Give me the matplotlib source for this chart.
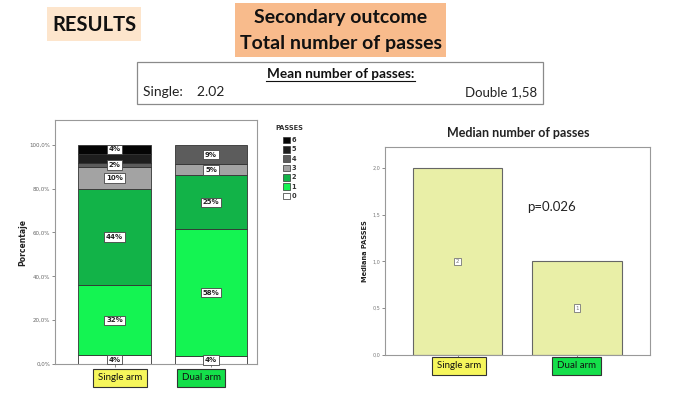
import matplotlib
matplotlib.use("Agg")
import matplotlib.pyplot as plt
from matplotlib.patches import Rectangle
import numpy as np

# ---- data ----
groups = ["Single arm", "Dual arm"]
pass_levels = ["0", "1", "2", "3", "4", "5", "6"]
single_pct = [3.9, 32.0, 44.0, 9.8, 2.1, 4.1, 4.1]
dual_pct = [3.6, 57.8, 24.6, 5.1, 8.9, 0.0, 0.0]
single_shown = [True, True, True, True, True, False, True]
dual_shown = [True, True, True, True, True, False, False]
medians = [2, 1]
median_labels = ["2", "1"]
mean_single = "2.02"
mean_double = "1,58"
p_value = "p=0.026"
pct_ticks = [0, 20, 40, 60, 80, 100]
pct_tick_labels = ["0,0%", "20,0%", "40,0%", "60,0%", "80,0%", "100,0%"]
med_ticks = [0.0, 0.5, 1.0, 1.5, 2.0]
med_tick_labels = ["0,0", "0,5", "1,0", "1,5", "2,0"]

level_colors = ["#ffffff", "#14f452", "#12b348", "#a3a3a3", "#5c5c5c", "#1e1e1e", "#050505"]
group_box_colors = ["#f6f65c", "#14df4a"]

FONT = "Lato"
W, H = 693, 396
fig = plt.figure(figsize=(W / 100, H / 100), dpi=100)
fig.patch.set_facecolor("white")


def fx(x):
    return x / W


def fy(y):
    return 1 - y / H


def fig_rect(x0, y0, x1, y1, fc, ec="none", lw=0.0):
    fig.patches.append(Rectangle((fx(x0), fy(y1)), fx(x1) - fx(x0), fy(y0) - fy(y1),
                                 transform=fig.transFigure, facecolor=fc, edgecolor=ec,
                                 linewidth=lw, zorder=0))


def group_box(xc, yc, label, color):
    fig.text(fx(xc), fy(yc), label, ha="center", va="center", fontsize=7, family=FONT,
             color="#111111",
             bbox=dict(boxstyle="square,pad=0.5", fc=color, ec="#333333", lw=0.8))


# ---- header ----
fig_rect(47, 7, 141, 41, "#fde5cc")
fig.text(fx(94), fy(25), "RESULTS", ha="center", va="center", fontsize=14.5,
         fontweight="bold", family=FONT, color="#111111")

fig_rect(235, 3, 446, 57, "#f8bb8c")
fig.text(fx(340.5), fy(18), "Secondary outcome", ha="center", va="center", fontsize=14,
         fontweight="bold", family=FONT, color="#111111")
fig.text(fx(340.5), fy(43), "Total number of passes", ha="center", va="center", fontsize=14,
         fontweight="bold", family=FONT, color="#111111")

fig_rect(137, 62, 543, 104, "white", ec="#8a8a8a", lw=0.9)
fig.text(fx(340.5), fy(74), "Mean number of passes:", ha="center", va="center",
         fontsize=9.8, fontweight="bold", family=FONT, color="#111111")
fig.add_artist(plt.Line2D([fx(266), fx(415)], [fy(80.5), fy(80.5)], transform=fig.transFigure,
                          color="#111111", lw=0.8))
fig.text(fx(143), fy(92), "Single:    " + mean_single, ha="left", va="center", fontsize=10,
         family=FONT, color="#222222")
fig.text(fx(537), fy(92), "Double " + mean_double, ha="right", va="center", fontsize=9.5,
         family=FONT, color="#222222")

# ---- left stacked chart ----
ax1 = fig.add_axes([fx(55), fy(364), fx(257) - fx(55), fy(120) - fy(364)])
x = np.arange(len(groups))
bw = 0.756
data = [single_pct, dual_pct]
shown = [single_shown, dual_shown]
for gi in range(len(groups)):
    bottom = 0.0
    for li, lvl in enumerate(pass_levels):
        v = data[gi][li]
        if v <= 0:
            continue
        ax1.bar(x[gi], v, bw, bottom=bottom, color=level_colors[li], edgecolor="#333333",
                linewidth=0.6, zorder=2)
        if shown[gi][li]:
            ax1.text(x[gi], bottom + v / 2, f"{v:.0f}%", ha="center", va="center", fontsize=5,
                     fontweight="bold", family="DejaVu Sans", color="#222222", zorder=4,
                     bbox=dict(boxstyle="square,pad=0.25", fc="white", ec="#444444", lw=0.6))
        bottom += v
ax1.set_xlim(-0.617, 1.477)
ax1.set_ylim(0, 111.3)
ax1.set_yticks(pct_ticks)
ax1.set_yticklabels(pct_tick_labels, fontsize=4, color="#666666")
ax1.set_xticks(x)
ax1.set_xticklabels(["", ""])
ax1.tick_params(axis="both", length=2.5, width=0.6, color="#777777", pad=1)
for s in ax1.spines.values():
    s.set_color("#999999")
    s.set_linewidth(0.8)
ax1.set_ylabel("Porcentaje", fontsize=5.5, fontweight="bold", color="#222222")
ax1.yaxis.set_label_coords(-0.135, 0.5)
group_box(120, 378, groups[0], group_box_colors[0])
group_box(201, 378, groups[1], group_box_colors[1])

# legend
fig.text(fx(275), fy(128), "PASSES", ha="left", va="center", fontsize=4.8, fontweight="bold",
         color="#333333")
for k, li in enumerate(range(len(pass_levels) - 1, -1, -1)):
    yc = 140 + k * 9.35
    fig.patches.append(Rectangle((fx(283), fy(yc + 3.3)), fx(6.5), fy(0) - fy(6.6),
                                 transform=fig.transFigure, facecolor=level_colors[li],
                                 edgecolor="#333333", linewidth=0.5))
    fig.text(fx(291.5), fy(yc), pass_levels[li], ha="left", va="center", fontsize=4.8,
             fontweight="bold", color="#333333")

# ---- right median chart ----
ax2 = fig.add_axes([fx(385), fy(355), fx(650) - fx(385), fy(147.3) - fy(355)])
ax2.bar(x, medians, 0.75, color="#e9efa7", edgecolor="#666666", linewidth=0.8, zorder=2)
for gi in range(len(groups)):
    ax2.text(x[gi], medians[gi] / 2, median_labels[gi], ha="center", va="center", fontsize=4,
             color="#777777", zorder=4,
             bbox=dict(boxstyle="square,pad=0.25", fc="white", ec="#777777", lw=0.6))
ax2.set_xlim(-0.607, 1.61)
ax2.set_ylim(0, 2.22)
ax2.set_yticks(med_ticks)
ax2.set_yticklabels(med_tick_labels, fontsize=3.5, color="#777777")
ax2.set_xticks(x)
ax2.set_xticklabels(["", ""])
ax2.tick_params(axis="both", length=2.5, width=0.6, color="#777777", pad=1)
for s in ax2.spines.values():
    s.set_color("#999999")
    s.set_linewidth(0.8)
ax2.set_ylabel("Mediana PASSES", fontsize=4.8, fontweight="bold", color="#222222")
ax2.yaxis.set_label_coords(-0.065, 0.5)
fig.text(fx(518), fy(133), "Median number of passes", ha="center", va="center", fontsize=9,
         fontweight="bold", family=FONT, color="#222222")
fig.text(fx(527), fy(207), p_value, ha="left", va="center", fontsize=9.5, family=FONT,
         color="#222222")
group_box(458.7, 366, groups[0], group_box_colors[0])
group_box(576.5, 366, groups[1], group_box_colors[1])

fig.savefig("out.png", dpi=100, facecolor="white")
